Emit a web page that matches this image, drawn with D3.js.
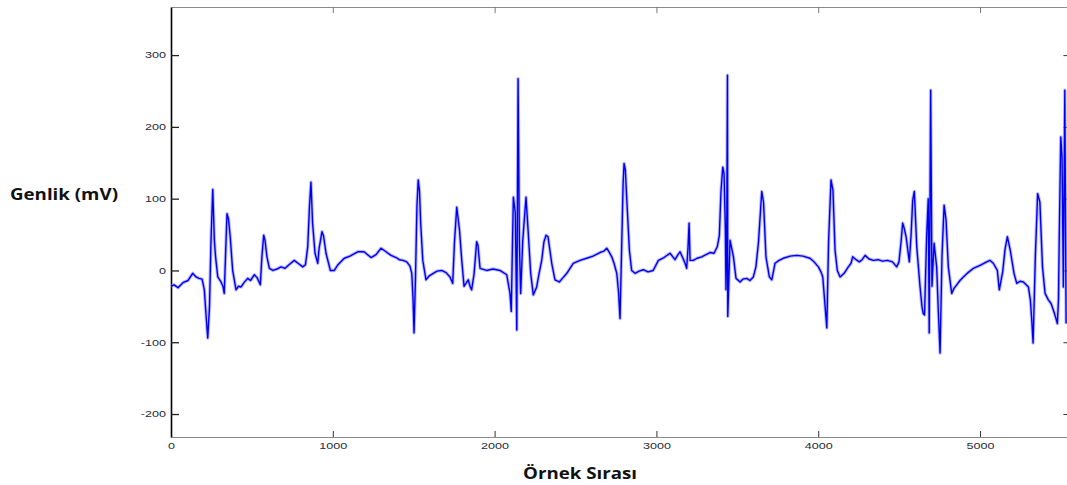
<!DOCTYPE html>
<html>
<head>
<meta charset="utf-8">
<script src="https://cdn.jsdelivr.net/npm/d3@7"></script>
<style>
  html, body { margin: 0; padding: 0; background: #fff; }
  svg { display: block; }
</style>
</head>
<body>
<svg id="chart" width="1067" height="485"></svg>
<script>
// sample index (x) and amplitude in mV (y)
const sampleIndex = [
  0, 19, 43, 74, 105, 134, 155, 173, 192, 206, 216, 227, 238, 247, 258, 268, 275, 289, 309, 321,
  329, 337, 346, 355, 366, 381, 402, 417, 433, 451, 474, 491, 515, 532, 552, 562, 573, 581, 593, 608,
  630, 655, 680, 705, 729, 762, 785, 814, 831, 845, 856, 865, 875, 890, 907, 915, 933, 943, 958, 985,
  1009, 1032, 1071, 1106, 1154, 1193, 1236, 1267, 1298, 1329, 1360, 1391, 1411, 1434, 1457, 1477, 1488, 1496, 1502, 1511,
  1520, 1528, 1536, 1543, 1556, 1576, 1594, 1621, 1644, 1673, 1700, 1724, 1741, 1752, 1766, 1783, 1797, 1811, 1823, 1837,
  1848, 1858, 1873, 1889, 1897, 1910, 1951, 1990, 2033, 2075, 2095, 2103, 2109, 2116, 2128, 2137, 2145, 2153, 2161, 2174,
  2194, 2208, 2223, 2239, 2260, 2274, 2291, 2305, 2318, 2330, 2353, 2373, 2400, 2423, 2446, 2486, 2528, 2569, 2608, 2651,
  2676, 2693, 2707, 2724, 2738, 2755, 2766, 2775, 2784, 2794, 2800, 2808, 2817, 2833, 2847, 2868, 2893, 2919, 2948, 2980,
  3012, 3047, 3084, 3115, 3133, 3146, 3164, 3177, 3187, 3195, 3202, 3208, 3228, 3251, 3280, 3306, 3331, 3356, 3376, 3389,
  3399, 3410, 3418, 3426, 3430, 3434, 3439, 3441, 3455, 3476, 3492, 3517, 3535, 3558, 3578, 3599, 3615, 3631, 3651, 3662,
  3677, 3698, 3713, 3733, 3758, 3784, 3826, 3867, 3906, 3949, 3974, 4001, 4017, 4028, 4039, 4053, 4064, 4079, 4091, 4104,
  4118, 4135, 4160, 4186, 4203, 4213, 4234, 4254, 4271, 4290, 4314, 4341, 4370, 4397, 4427, 4459, 4485, 4499, 4512, 4522,
  4530, 4543, 4563, 4574, 4584, 4594, 4609, 4629, 4641, 4649, 4657, 4670, 4680, 4686, 4695, 4703, 4716, 4732, 4743, 4753,
  4765, 4778, 4790, 4804, 4825, 4839, 4856, 4876, 4897, 4926, 4959, 5000, 5041, 5062, 5082, 5107, 5119, 5140, 5155, 5169,
  5187, 5210, 5227, 5247, 5268, 5299, 5311, 5320, 5328, 5342, 5356, 5370, 5386, 5402, 5422, 5439, 5453, 5467, 5478, 5485,
  5490, 5499, 5507, 5515, 5524, 5532
]
const amplitudeMv = [
  -22, -20, -24, -17, -14, -4, -9, -11, -12, -27, -60, -94, -50, 40, 113, 42, 20, -9, -16, -22,
  -32, 20, 79, 72, 47, 0, -27, -22, -23, -17, -11, -14, -6, -10, -20, 20, 49, 42, 19, 3,
  0, 2, 5, 3, 8, 14, 10, 5, 8, 33, 90, 123, 66, 24, 10, 30, 54, 48, 24, 0,
  0, 8, 17, 20, 26, 26, 18, 22, 31, 26, 21, 18, 15, 14, 12, 6, -4, -40, -87, -10,
  90, 126, 110, 66, 14, -13, -8, -4, -1, 0, -3, -9, -18, 40, 88, 56, 14, -22, -18, -13,
  -22, -27, -5, 40, 35, 3, 0, 2, 0, -6, -32, -57, 20, 102, 80, -83, 267, 40, -32, 42,
  102, 52, -4, -34, -23, -5, 14, 40, 49, 47, 10, -13, -16, -10, -4, 10, 14, 17, 20, 25,
  27, 31, 26, 19, 10, -4, -30, -67, 20, 120, 149, 140, 98, 28, 0, -4, -1, 1, -2, 0,
  14, 18, 24, 15, 22, 26, 17, 10, 3, 30, 66, 14, 14, 17, 19, 22, 25, 24, 33, 49,
  110, 144, 135, 60, -27, 30, 272, -64, 42, 19, -11, -16, -12, -11, -14, -9, 5, 40, 110, 95,
  19, -9, -13, 10, 14, 17, 20, 21, 20, 17, 12, 5, -2, -9, -40, -80, 40, 126, 112, 28,
  0, -9, -4, 5, 10, 19, 15, 12, 15, 21, 16, 14, 15, 13, 14, 12, 5, 12, 40, 66,
  60, 47, 12, 50, 98, 110, 33, -22, -50, -60, -62, 47, 100, -87, 251, -22, 38, 5, -60, -115,
  20, 91, 70, 5, -32, -25, -20, -14, -9, -3, 3, 7, 12, 14, 10, 0, -27, -2, 30, 47,
  28, -4, -18, -15, -16, -23, -41, -70, -101, 20, 107, 95, 5, -32, -41, -46, -55, -65, -74, -40,
  52, 186, 158, -23, 251, -74
]
const xTicks = [0, 1000, 2000, 3000, 4000, 5000]
const yTicks = [-200, -100, 0, 100, 200, 300]
const xTitle = "Örnek Sırası"
const yTitle = "Genlik (mV)"

const plot = {left: 171, right: 1067.4, top: 7, bottom: 437}

const svg = d3.select("#chart")

const x = d3.scaleLinear()
            .domain([0, 5540])
            .range([plot.left, plot.right])

const y = d3.scaleLinear()
            .domain([-232, 367])
            .range([plot.bottom, plot.top])

const fmt = d => String(d)

// top border with inner ticks
svg.append("g")
   .attr("transform", "translate(0," + plot.top + ")")
   .call(d3.axisTop(x).tickValues(xTicks.slice(1)).tickSizeInner(-6).tickSizeOuter(0).tickFormat(""))
   .call(g => g.select(".domain").attr("stroke", "#8a8a8a"))
   .call(g => g.selectAll(".tick line").attr("stroke", "#777"))

// right border (sits on the picture edge)
svg.append("g")
   .attr("transform", "translate(" + plot.right + ",0)")
   .call(d3.axisRight(y).tickValues(yTicks).tickSizeInner(-4).tickSizeOuter(0).tickFormat(""))
   .call(g => g.select(".domain").attr("stroke", "#8a8a8a"))
   .call(g => g.selectAll(".tick line").attr("stroke", "#333"))

// bottom axis
const xAxis = svg.append("g")
   .attr("transform", "translate(0," + plot.bottom + ")")
   .call(d3.axisBottom(x).tickValues(xTicks).tickSizeInner(-6).tickSizeOuter(0).tickPadding(6).tickFormat(fmt))
xAxis.select(".domain").attr("stroke", "#8a8a8a").attr("stroke-width", 1.2)
xAxis.selectAll(".tick line").attr("stroke", "#333")
xAxis.selectAll("text")
     .attr("font-family", "'Liberation Sans', Arial, sans-serif")
     .attr("font-size", 9)
     .attr("fill", "#2a2a3a")
     .attr("transform", "scale(1.4,1)")

// left axis
const yAxis = svg.append("g")
   .attr("transform", "translate(" + plot.left + ",0)")
   .call(d3.axisLeft(y).tickValues(yTicks).tickSizeInner(-8).tickSizeOuter(0).tickPadding(3.6).tickFormat(fmt))
yAxis.select(".domain").attr("stroke", "#000").attr("stroke-width", 1.6)
yAxis.selectAll(".tick line").attr("stroke", "#222").attr("stroke-width", 1.3)
yAxis.selectAll("text")
     .attr("font-family", "'Liberation Sans', Arial, sans-serif")
     .attr("font-size", 9)
     .attr("fill", "#2a2a3a")
     .attr("transform", "scale(1.4,1)")

// ECG trace : soft halo + dark core, like the blurry scan
const points = d3.zip(sampleIndex, amplitudeMv)
const linePath = d3.line()
                   .x(d => x(d[0]))
                   .y(d => y(d[1]))

svg.append("path")
   .attr("d", linePath(points))
   .attr("fill", "none")
   .attr("stroke", "#7f7fff")
   .attr("stroke-opacity", 0.55)
   .attr("stroke-width", 3.4)
   .attr("stroke-linejoin", "round")

svg.append("path")
   .attr("d", linePath(points))
   .attr("fill", "none")
   .attr("stroke", "#0000f0")
   .attr("stroke-width", 1.4)
   .attr("stroke-linejoin", "round")

// titles
svg.append("text")
   .attr("x", 10)
   .attr("y", 200)
   .attr("font-family", "'Open Sans', sans-serif")
   .attr("font-weight", "bold")
   .attr("font-size", 16)
   .attr("fill", "#111")
   .attr("textLength", 108)
   .attr("lengthAdjust", "spacingAndGlyphs")
   .text(yTitle)

svg.append("text")
   .attr("x", 523)
   .attr("y", 479)
   .attr("font-family", "'Open Sans', sans-serif")
   .attr("font-weight", "bold")
   .attr("font-size", 16)
   .attr("fill", "#111")
   .attr("textLength", 114)
   .attr("lengthAdjust", "spacingAndGlyphs")
   .text(xTitle)
</script>
</body>
</html>
